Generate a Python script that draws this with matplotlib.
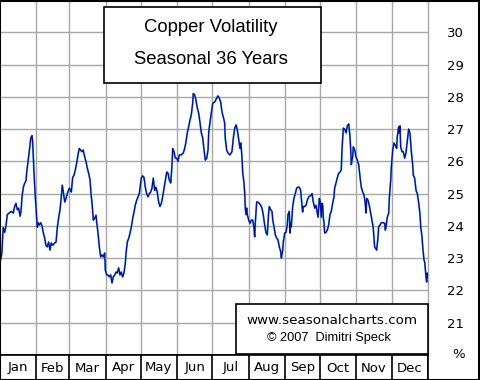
import matplotlib
matplotlib.use('Agg')
import matplotlib.pyplot as plt
from matplotlib.patches import Rectangle

# day of year and seasonal volatility (%)
days = [0.0, 0.9, 1.7, 2.3, 2.8, 4.0, 5.1, 6.2, 7.9, 9.6, 11.3, 12.5, 13.6, 14.8, 15.9,
        17.1, 17.9, 18.8, 19.9, 21.1, 22.2, 22.8, 23.9, 24.5, 25.6, 26.2, 27.3, 27.9,
        28.4, 29.0, 30.1, 31.3, 31.8, 32.4, 33.5, 34.7, 35.8, 36.9, 38.1, 39.2, 40.3,
        41.5, 42.6, 43.7, 44.9, 46.6, 47.8, 48.9, 50.1, 51.2, 52.3, 53.1, 54.0, 55.2,
        56.3, 57.4, 59.1, 60.3, 60.8, 62.0, 63.1, 64.2, 65.4, 66.5, 67.6, 68.8, 69.9,
        71.0, 72.2, 73.3, 74.4, 75.6, 76.8, 77.6, 78.5, 79.6, 80.8, 81.9, 82.5, 83.6,
        84.7, 85.9, 87.0, 88.1, 89.3, 89.8, 91.0, 92.1, 93.2, 94.4, 95.5, 96.6, 97.8,
        98.9, 100.0, 101.2, 102.3, 103.4, 104.6, 105.7, 106.9, 107.5, 108.6, 109.8,
        110.9, 112.0, 113.2, 114.3, 115.4, 116.6, 117.7, 118.8, 120.5, 121.7, 122.8,
        123.9, 125.1, 126.2, 127.3, 128.5, 129.6, 130.7, 131.9, 133.0, 134.1, 135.3,
        136.4, 137.6, 138.7, 139.9, 141.0, 142.2, 143.3, 144.4, 145.6, 146.7, 147.3,
        148.4, 149.5, 150.7, 151.8, 152.9, 154.6, 156.3, 157.5, 158.6, 159.7, 160.9,
        162.0, 163.1, 164.3, 164.8, 166.0, 167.1, 168.3, 169.4, 170.6, 171.7, 172.9,
        174.0, 175.1, 176.3, 177.4, 178.0, 179.1, 180.2, 181.4, 183.1, 184.8, 185.9,
        187.0, 188.2, 189.3, 190.4, 191.6, 192.1, 193.3, 194.4, 196.1, 197.8, 199.0,
        200.2, 201.3, 202.4, 203.6, 204.7, 205.3, 205.8, 206.4, 207.0, 208.1, 208.7,
        209.2, 209.8, 210.4, 210.9, 212.1, 213.2, 214.3, 215.5, 216.6, 217.2, 217.7,
        218.9, 220.0, 221.1, 222.3, 223.4, 224.5, 225.7, 226.8, 227.9, 229.1, 229.7,
        230.8, 232.0, 232.6, 233.7, 234.8, 236.0, 237.1, 238.2, 239.4, 239.9, 241.1,
        241.6, 242.8, 243.9, 245.0, 245.6, 246.7, 247.3, 247.9, 248.4, 249.6, 250.7,
        251.8, 253.0, 254.1, 255.2, 256.4, 257.5, 258.1, 258.7, 259.8, 261.0, 262.1,
        263.3, 264.4, 265.5, 266.1, 267.2, 268.4, 269.5, 270.6, 271.2, 272.3, 272.9,
        274.0, 274.6, 275.2, 275.7, 276.3, 276.9, 278.0, 279.1, 280.3, 281.4, 282.5,
        283.7, 284.8, 285.4, 286.5, 287.6, 288.8, 289.9, 291.0, 291.7, 292.8, 294.0,
        295.1, 296.2, 297.4, 298.5, 299.1, 299.6, 300.2, 300.8, 301.3, 302.5, 303.6,
        304.7, 305.9, 307.0, 308.1, 309.3, 310.4, 311.5, 312.1, 312.7, 313.8, 314.9,
        316.1, 317.2, 318.3, 318.9, 319.5, 320.7, 321.2, 322.4, 322.9, 324.1, 325.2,
        326.9, 328.1, 328.6, 329.2, 330.3, 331.5, 332.0, 333.2, 333.7, 334.9, 336.0,
        337.1, 338.3, 338.8, 340.0, 340.5, 341.1, 341.7, 342.8, 343.9, 345.1, 346.2,
        347.3, 348.5, 349.6, 350.8, 351.9, 352.5, 353.6, 354.8, 355.9, 357.1, 358.2,
        358.8, 359.9, 360.5, 361.6, 362.2, 363.3, 363.9, 364.4, 365.0]
vola = [22.9, 23.0, 23.2, 23.7, 23.95, 23.8, 24.0, 24.35, 24.4, 24.45, 24.4, 24.6, 24.7,
        24.5, 24.55, 24.3, 24.45, 24.9, 25.2, 25.33, 25.4, 25.67, 26.0, 26.2, 26.5, 26.72,
        26.8, 26.57, 26.14, 25.64, 24.9, 24.27, 23.96, 24.1, 24.03, 24.1, 24.0, 23.8,
        23.62, 23.4, 23.35, 23.5, 23.25, 23.47, 23.4, 23.47, 23.5, 23.96, 24.27, 24.5,
        24.9, 25.26, 25.05, 24.74, 24.85, 25.0, 25.17, 25.1, 25.05, 25.5, 25.57, 25.73,
        25.95, 26.2, 26.4, 26.35, 26.3, 26.35, 26.14, 26.0, 25.8, 25.63, 25.42, 25.0,
        24.7, 24.18, 24.24, 24.33, 24.1, 23.78, 23.35, 23.04, 23.1, 23.04, 23.16, 22.63,
        22.48, 22.48, 22.42, 22.48, 22.23, 22.42, 22.48, 22.57, 22.54, 22.7, 22.48, 22.57,
        22.42, 22.54, 22.85, 23.16, 23.5, 23.62, 23.78, 23.97, 24.24, 24.43, 24.65, 24.8,
        24.9, 25.0, 25.48, 25.55, 25.5, 25.2, 25.0, 24.9, 25.0, 25.05, 25.17, 25.48, 25.1,
        25.2, 25.05, 24.74, 24.6, 24.7, 24.9, 25.17, 25.42, 25.67, 25.63, 25.42, 25.33,
        25.9, 26.4, 26.3, 26.1, 26.1, 26.0, 26.2, 26.2, 26.26, 26.4, 26.6, 26.88, 27.07,
        27.28, 27.43, 27.8, 28.1, 28.06, 27.9, 27.65, 27.5, 27.19, 26.88, 26.72, 26.35,
        26.04, 26.1, 26.35, 26.9, 27.22, 27.5, 27.8, 27.84, 27.96, 28.03, 27.96, 27.84,
        27.53, 27.38, 27.19, 26.72, 26.35, 26.26, 26.2, 26.3, 26.72, 27.03, 27.13, 26.97,
        26.66, 26.4, 26.57, 26.4, 26.1, 25.64, 25.33, 25.0, 24.55, 24.35, 24.55, 24.35,
        24.18, 24.08, 24.18, 24.18, 23.94, 23.66, 24.08, 24.74, 24.74, 24.7, 24.64, 24.55,
        24.35, 24.03, 23.8, 23.72, 24.4, 24.6, 24.5, 24.45, 24.18, 23.97, 23.72, 23.62,
        23.56, 23.35, 23.2, 23.0, 23.25, 23.5, 23.78, 23.8, 24.03, 24.35, 24.45, 23.78,
        24.1, 23.97, 24.6, 24.86, 25.0, 25.17, 25.2, 25.2, 25.1, 24.64, 24.43, 24.6, 24.6,
        24.64, 24.8, 24.9, 24.93, 24.96, 25.0, 24.74, 24.55, 24.64, 24.4, 24.27, 24.85,
        24.8, 24.27, 24.7, 24.64, 24.27, 24.08, 23.78, 23.8, 23.87, 24.03, 24.35, 24.45,
        24.7, 24.9, 25.17, 25.33, 25.48, 25.63, 25.67, 25.73, 26.4, 27.03, 27.0, 26.88,
        27.1, 27.16, 26.76, 26.35, 25.9, 26.04, 26.14, 26.45, 26.35, 26.14, 26.04, 25.9,
        25.53, 25.2, 25.05, 24.96, 24.7, 24.4, 24.85, 24.8, 24.64, 24.4, 24.18, 23.94,
        23.62, 23.35, 23.28, 23.25, 23.66, 23.97, 24.03, 24.1, 24.1, 24.08, 23.87, 23.97,
        24.27, 24.4, 24.85, 25.42, 25.8, 26.35, 26.57, 26.5, 26.4, 26.76, 27.07, 26.88,
        27.1, 26.45, 26.3, 26.3, 26.1, 26.26, 26.6, 27.0, 26.88, 26.3, 25.9, 25.57, 25.48,
        25.1, 25.0, 24.7, 24.35, 23.97, 23.66, 23.35, 22.94, 22.88, 22.42, 22.26, 22.54,
        22.42]

months = ['Jan', 'Feb', 'Mar', 'Apr', 'May', 'Jun', 'Jul', 'Aug', 'Sep', 'Oct', 'Nov', 'Dec']
month_days = [31, 28, 31, 30, 31, 30, 31, 31, 30, 31, 30, 31]
y_ticks = [21, 22, 23, 24, 25, 26, 27, 28, 29, 30]

edges = [0]
for d in month_days:
    edges.append(edges[-1] + d)
centers = [(edges[i] + edges[i + 1]) / 2 for i in range(12)]

fig = plt.figure(figsize=(4.8, 3.8), dpi=100)
fig.patch.set_facecolor('white')

grid_col = '#a8a8a8'
ax = fig.add_axes([0.0, 25 / 380, 428 / 480, 355 / 380])
ax.set_xlim(0, 365)
ax.set_ylim(20, 31)
for e in edges[1:-1]:
    ax.axvline(e, color=grid_col, lw=1.0, zorder=1)
for t in y_ticks:
    ax.axhline(t, color=grid_col, lw=1.0, zorder=1)

ax.plot(days, vola, color='#38b8d8', lw=1.4, alpha=0.8, zorder=2)
ax.plot(days, vola, color='#0a0a96', lw=0.95, zorder=3)

ax.set_xticks([])
ax.yaxis.tick_right()
ax.set_yticks(y_ticks)
ax.set_yticklabels([str(t) for t in y_ticks], fontsize=9.5, family='DejaVu Sans')
ax.tick_params(axis='y', length=0, pad=14)
for s in ['left', 'top', 'bottom']:
    ax.spines[s].set_color('black')
    ax.spines[s].set_linewidth(1.2)
ax.spines['right'].set_color(grid_col)
ax.spines['right'].set_linewidth(1.0)
ax.text(1.0 + 24 / 428, 20, '%', transform=ax.get_yaxis_transform(), ha='left',
        va='center', fontsize=9.5)

# title box
fig.patches.append(Rectangle((104 / 480, 1 - 83 / 380), 217 / 480, 76 / 380,
                             transform=fig.transFigure, facecolor='white',
                             edgecolor='black', lw=1.2, zorder=5))
fig.text(211 / 480, 1 - 28 / 380, 'Copper Volatility', ha='center', va='center',
         fontsize=13.3, family='Liberation Sans', zorder=6)
fig.text(211 / 480, 1 - 60 / 380, 'Seasonal 36 Years', ha='center', va='center',
         fontsize=13.3, family='Liberation Sans', zorder=6)

# copyright box
fig.patches.append(Rectangle((236 / 480, 1 - 354 / 380), 192 / 480, 50 / 380,
                             transform=fig.transFigure, facecolor='white',
                             edgecolor='black', lw=1.2, zorder=5))
fig.text(332 / 480, 1 - 320 / 380, 'www.seasonalcharts.com', ha='center', va='center',
         fontsize=9.7, family='DejaVu Sans', zorder=6)
fig.text(329 / 480, 1 - 338 / 380, '\u00a9 2007  Dimitri Speck', ha='center', va='center',
         fontsize=9.2, family='Liberation Sans', zorder=6)

# month row
axm = fig.add_axes([0.0, 0.0, 428 / 480, 25 / 380])
axm.set_xlim(0, 365)
axm.set_ylim(0, 1)
axm.set_xticks([])
axm.set_yticks([])
for e in edges[1:]:
    axm.axvline(e, color='black', lw=1.2)
for c, m in zip(centers, months):
    axm.text(c, 0.48, m, ha='center', va='center', fontsize=9.5, family='DejaVu Sans')
for s in axm.spines.values():
    s.set_color('black')
    s.set_linewidth(1.2)

# outer frame
fig.patches.append(Rectangle((0.001, 0.001), 0.997, 0.997, transform=fig.transFigure,
                             facecolor='none', edgecolor='black', lw=1.5, zorder=10))

plt.savefig('out.png', dpi=100)
